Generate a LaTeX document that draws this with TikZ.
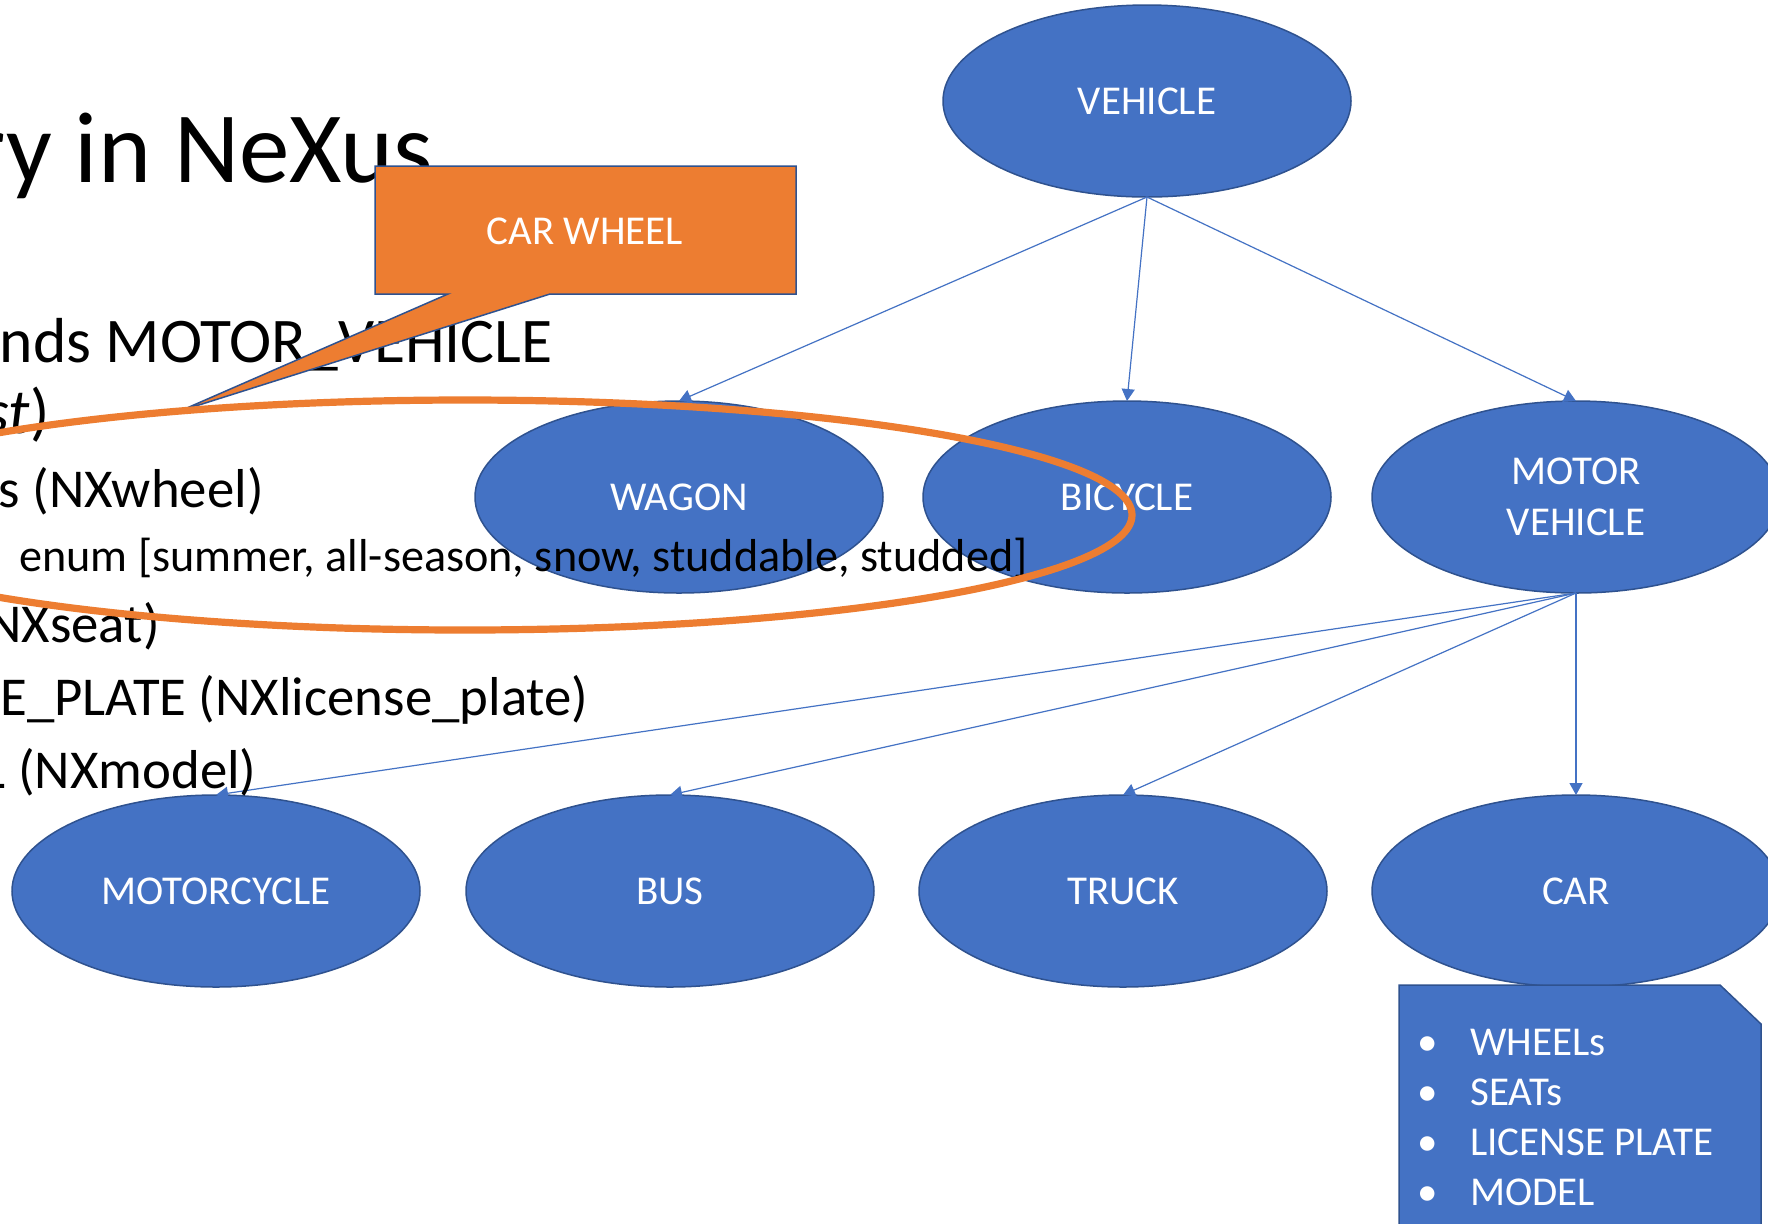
\documentclass[tikz,border=0pt]{standalone}
\usepackage{fontspec}
\setmainfont{Carlito}
\usetikzlibrary{shapes.geometric,arrows.meta}

\definecolor{nxblue}{HTML}{4472C4}
\definecolor{nxedge}{HTML}{2F528F}
\definecolor{nxorange}{HTML}{ED7D31}

\tikzset{
  cls/.style={ellipse, fill=nxblue, draw=nxedge, line width=0.75pt,
    minimum width=204pt, minimum height=96pt, inner sep=0pt, outer sep=0pt,
    text=white, align=center, font=\fontsize{20.5}{25.5}\selectfont},
  isa/.style={draw=nxblue, line width=0.6pt, -{Triangle[width=6.5pt,length=6pt]}},
  slide/.style={anchor=base east, inner sep=0pt, text=black},
  lvlone/.style={slide, font=\fontsize{31.8}{38}\selectfont},
  lvltwo/.style={slide, font=\fontsize{27.4}{33}\selectfont},
  lvlthree/.style={slide, font=\fontsize{23.1}{28}\selectfont},
}

\begin{document}
\begin{tikzpicture}[x=0.5pt, y=-0.5pt]
\useasboundingbox (0,0) rectangle (1768,1223);
\clip (0,0) rectangle (1768,1223);
\fill[white] (0,0) rectangle (1768,1223);

%classes
\node[cls] (vehicle) at (1147,101) {VEHICLE};
\node[cls] (wagon) at (679,497) {WAGON};
\node[cls] (bicycle) at (1127,497) {BICYCLE};
\node[cls] (motor) at (1576,497) {MOTOR\\VEHICLE};
\node[cls] (motorcycle) at (216,891) {MOTORCYCLE};
\node[cls] (bus) at (670,891) {BUS};
\node[cls] (truck) at (1123,891) {TRUCK};
\node[cls] (car) at (1576,891) {CAR};

%inheritance arrows
\draw[isa] (vehicle.south) -- (wagon.north);
\draw[isa] (vehicle.south) -- (bicycle.north);
\draw[isa] (vehicle.south) -- (motor.north);
\draw[isa] (motor.south) -- (motorcycle.north);
\draw[isa] (motor.south) -- (bus.north);
\draw[isa] (motor.south) -- (truck.north);
\draw[isa] (motor.south) -- (car.north);

%note with the CAR fields
\draw[fill=nxblue, draw=nxedge, line width=0.75pt]
  (1399,985) -- (1720,985) -- (1761,1024) -- (1761,1240) -- (1399,1240) -- cycle;
\node[anchor=base west, inner sep=0pt, text=white, align=left,
  font=\fontsize{20.5}{25}\selectfont] (fields) at (1417,1205)
  {\makebox[26.5pt][l]{\textbullet}WHEELs\\
   \makebox[26.5pt][l]{\textbullet}SEATs\\
   \makebox[26.5pt][l]{\textbullet}LICENSE PLATE\\
   \makebox[26.5pt][l]{\textbullet}MODEL};

%slide text underneath
\node[slide, font=\fontsize{50.5}{60}\selectfont] (title) at (433,182) {ry in NeXus};
\node[lvlone] (extends) at (553,362) {nds MOTOR\_VEHICLE};
\node[lvlone] (abstract) at (50,433) {\textit{st})};
\node[lvltwo] (wheel) at (264,507) {s (NXwheel)};
\node[lvlthree] (tire) at (1028,571) {enum [summer, all-season, snow, studdable, studded]};
\node[lvltwo] (seat) at (160,642) {NXseat)};
\node[lvltwo] (plate) at (589,715) {E\_PLATE (NXlicense\_plate)};
\node[lvltwo] (model) at (257,788) {L (NXmodel)};

%callout
\coordinate (tip) at (180,411);
\draw[fill=nxorange, draw=nxedge, line width=0.75pt]
  (375,166) -- (796,166) -- (796,294) -- (550,294) -- (tip) -- (448,294) -- (375,294) -- cycle;
\node[text=white, font=\fontsize{20.5}{25}\selectfont] (carwheel) at (585,231) {CAR WHEEL};

%ring round the wheel fields
\draw[nxorange, line width=3.6pt] (465,515) ellipse [x radius=333.5pt, y radius=57.5pt];
\end{tikzpicture}
\end{document}
